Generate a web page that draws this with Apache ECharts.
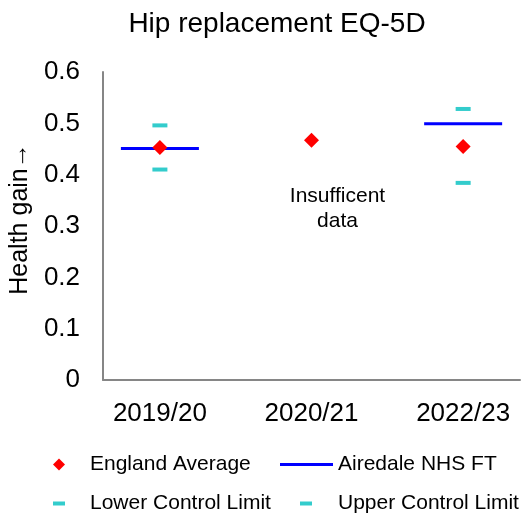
<!DOCTYPE html>
<html><head><meta charset="utf-8">
<script src="https://cdn.jsdelivr.net/npm/echarts@6/dist/echarts.min.js"></script>
<style>html,body{margin:0;padding:0;background:#fff}#c{width:525px;height:513px}</style>
</head><body><div id="c"></div>
<script>
const categories = ['2019/20', '2020/21', '2022/23'];
const englandAverage = [0.453, 0.467, 0.455];
const airedale = [0.451, null, 0.499];
const lowerLimit = [0.410, null, 0.384];
const upperLimit = [0.496, null, 0.528];
const yTicks = [0, 0.1, 0.2, 0.3, 0.4, 0.5, 0.6];
const note = { category: 1, value: 0.333, text: 'Insufficent\ndata' };

const toPts = arr => arr.map((v, i) => v == null ? null : [i + 1, v]).filter(p => p);
const F = 'Arial, "Liberation Sans", sans-serif';

const chart = echarts.init(document.getElementById('c'));
const ts = p => ({ fontFamily: F, fontSize: 21, color: '#000', padding: [0, 0, 0, p] });
const legendBase = { orient: 'horizontal', itemGap: 0, selectedMode: false, padding: 0 };
chart.setOption({
  animation: false,
  title: { text: 'Hip replacement EQ-5D', left: 272, top: 5, textAlign: 'center', textStyle: { fontFamily: F, fontSize: 28, fontWeight: 'normal', color: '#000' } },
  grid: { left: 103, right: 5, top: 72, bottom: 133 },
  xAxis: {
    type: 'value', min: 0.625, max: 3.375,
    axisLine: { show: true, lineStyle: { color: '#868686', width: 2 } },
    axisTick: { show: false },
    splitLine: { show: false },
    axisLabel: { customValues: [1, 2, 3], formatter: v => categories[Math.round(v) - 1] || '', margin: 21, fontFamily: F, fontSize: 26, color: '#000' }
  },
  yAxis: {
    type: 'value', min: 0, max: 0.6, interval: 0.1,
    name: 'Health gain\u2192', nameLocation: 'middle', nameGap: 68, nameRotate: 90,
    nameTextStyle: { fontFamily: F, fontSize: 25, color: '#000', padding: [0, 0, 0, 14] },
    axisLine: { show: true, lineStyle: { color: '#868686', width: 2 } },
    axisTick: { show: false },
    splitLine: { show: false },
    axisLabel: { formatter: v => { const t = yTicks.find(x => Math.abs(x - v) < 1e-9); return t === 0 ? '0' : String(+v.toFixed(1)); }, margin: 23, fontFamily: F, fontSize: 26, color: '#000' }
  },
  legend: [
    Object.assign({}, legendBase, { left: 53, top: 454, data: [{ name: 'England Average', icon: 'diamond' }], itemWidth: 12, itemHeight: 12, textStyle: ts(20) }),
    Object.assign({}, legendBase, { left: 280, top: 454, data: [{ name: 'Airedale NHS FT', icon: 'rect' }], itemWidth: 53, itemHeight: 3, textStyle: ts(0) }),
    Object.assign({}, legendBase, { left: 53, top: 493, data: [{ name: 'Lower Control Limit', icon: 'rect' }], itemWidth: 12, itemHeight: 4, textStyle: ts(20) }),
    Object.assign({}, legendBase, { left: 300, top: 493, data: [{ name: 'Upper Control Limit', icon: 'rect' }], itemWidth: 12, itemHeight: 4, textStyle: ts(21) })
  ],
  series: [
    { name: 'Airedale NHS FT', type: 'scatter', symbol: 'rect', symbolSize: [78, 3], itemStyle: { color: '#0000FF', opacity: 1 }, data: toPts(airedale), z: 2 },
    { name: 'Lower Control Limit', type: 'scatter', symbol: 'rect', symbolSize: [15, 4], itemStyle: { color: '#33CCCC', opacity: 1 }, data: toPts(lowerLimit), z: 2 },
    { name: 'Upper Control Limit', type: 'scatter', symbol: 'rect', symbolSize: [15, 4], itemStyle: { color: '#33CCCC', opacity: 1 }, data: toPts(upperLimit), z: 2 },
    { name: 'England Average', type: 'scatter', symbol: 'diamond', symbolSize: 15, itemStyle: { color: '#FF0000', opacity: 1 }, data: toPts(englandAverage), z: 3 },
    { name: 'note', type: 'scatter', symbolSize: 0, silent: true, itemStyle: { opacity: 1 }, data: [[note.category + 1, note.value]],
      label: { show: true, position: 'inside', offset: [26, 0], formatter: note.text, fontFamily: F, fontSize: 21, color: '#000', opacity: 1, textBorderWidth: 0, lineHeight: 25, align: 'center' } }
  ]
});
</script></body></html>
